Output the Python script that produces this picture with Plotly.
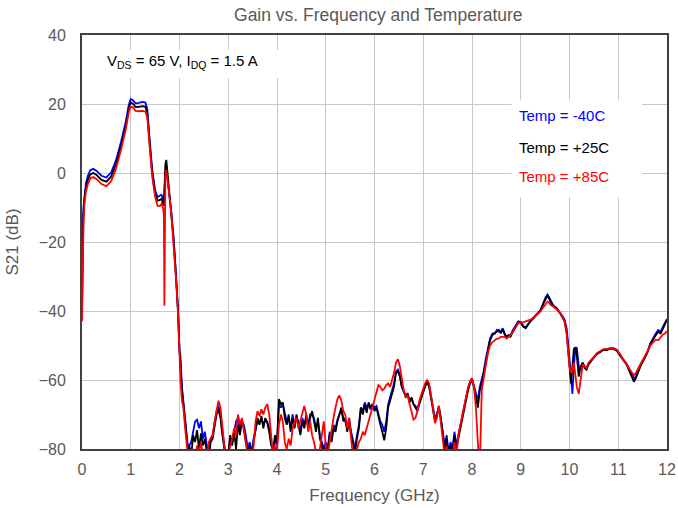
import plotly.graph_objects as go

# ---------------- data ----------------
freq_low = [0, 0.01, 0.03, 0.05, 0.08, 0.12, 0.17, 0.23, 0.3, 0.4, 0.5, 0.6, 0.7, 0.8, 0.9, 0.96,
            1.0, 1.05, 1.1, 1.17, 1.24, 1.3, 1.34, 1.38, 1.44, 1.5, 1.55, 1.6, 1.63, 1.66, 1.68,
            1.69, 1.70, 1.71, 1.73, 1.75, 1.78, 1.83, 1.88, 1.93, 1.97, 2.0, 2.02, 2.05, 2.08,
            2.11, 2.14, 2.17]

blue_low = [-36, -18, -10, -6, -3, -0.8, 0.8, 1.2, 0.6, -0.8, -1.3, 0.2, 3.8, 9, 15, 19.8,
            21.4, 21.0, 20.2, 20.3, 20.6, 20.4, 18.5, 11, 1, -5, -7, -6.5, -6.3, -7.5, -8,
            -6, -2, 0, 1.5, -0.5, -5, -11, -19, -30, -40, -52, -53, -62, -66,
            -71, -76, -79]
black_low = [-40, -21, -12, -7.5, -4.3, -2, -0.4, 0, -0.6, -2, -2.5, -1, 2.6, 7.9, 13.9, 18.7,
             20.4, 20.0, 19.1, 19.2, 19.4, 19.2, 17.3, 10, 0, -6, -8, -7.8, -7.5, -8.8, -9.5,
             -5, 0, 2.5, 3.8, 0.5, -4.5, -11, -19.5, -30.5, -40, -51, -56, -63, -67,
             -72, -76, -80]
red_low = [-43, -25, -14.5, -9, -5.5, -3.2, -1.6, -1.2, -1.8, -3.2, -3.8, -2.3, 1.4, 6.7, 12.8, 17.6,
           19.3, 19.0, 18.0, 17.9, 18.0, 17.8, 16, 9, -1, -7, -9.5, -9.5, -9, -10, -12,
           -38.5, -5, -1, 0.8, -1, -5, -11.5, -20, -31, -41, -54, -60, -66, -68,
           -73, -78, -82]

# measurement sweep in the noisy band, 2.20 .. 8.16 GHz, 40 MHz steps
freq_mid = [round(2.2 + 0.04 * i, 2) for i in range(150)]

blue_mid = [
    -79, -78, -75, -72, -71.5, -74, -72, -77, -75, -79,
    -80, -77, -76, -72, -69, -67.5, -70, -75, -79, -83,
    -81, -77, -78, -75, -72, -71, -75, -72, -73, -76,
    -80, -78, -81, -77, -74, -72, -72.5, -71, -73, -71.5,
    -72, -74, -78, -81, -77, -79, -67, -68, -67, -70,
    -72, -71, -74, -70, -73, -71, -72, -75, -71, -73,
    -71, -73, -70, -70, -71, -74, -72, -76, -78, -80,
    -78, -80, -75, -77, -73, -74, -71.5, -70, -68.5, -71,
    -72, -74, -71, -75, -78, -80, -76, -73, -68, -69,
    -66.5, -68, -67, -68.5, -67, -68, -67.5, -70, -72, -73,
    -75, -72, -67, -65, -63, -61, -57.5, -57, -58.5, -62,
    -63.5, -64.5, -64, -66, -65.5, -67, -67.5, -68.5, -66.5, -64.5,
    -63, -61.5, -60, -61.5, -64.5, -68.5, -71, -70, -67.5, -71,
    -75, -79, -76, -81, -78, -80, -75, -79, -76, -73,
    -70, -68, -65, -62.5, -60.5, -59.5, -61.5, -64, -66, -62,
]
black_mid = [
    -79, -82, -76, -78, -74.5, -80, -75.5, -79, -77, -81,
    -83, -78, -77, -73, -70, -68.5, -71, -76, -80, -84,
    -82, -76, -79, -75, -80, -73, -76, -71.5, -74, -77,
    -81, -79, -83, -78, -74, -71, -73, -70.5, -74, -71,
    -72.5, -75, -79, -80, -76, -78, -65.5, -67, -66.5, -71,
    -73, -70, -75, -71, -74, -70, -73, -76, -72, -74,
    -70, -74, -71, -69, -72, -75, -71, -77, -79, -82,
    -79, -81, -76, -78, -74, -75, -72, -70, -68, -72,
    -71, -75, -72, -76, -79, -81, -77, -74, -68, -70,
    -67, -69.5, -66.5, -68, -67, -69, -68, -71, -73, -75,
    -77.5, -74, -68, -66, -64, -62, -58, -57.5, -59, -62,
    -63, -65, -64, -66.5, -65, -67, -68, -69, -67, -65,
    -63.5, -62, -60.5, -62, -65, -69, -72, -70, -68, -71,
    -76, -80, -77, -82, -79, -81, -76, -80, -77, -74,
    -71, -69, -66, -63, -61, -60, -62, -65, -68, -63,
]
red_mid = [
    -84, -82, -80, -83, -79, -81, -78, -82, -80, -84,
    -78, -77, -76, -72, -69, -66, -68, -74, -79, -83,
    -84, -79, -77, -74, -76, -70, -73, -71, -75, -78,
    -82, -80, -84, -79, -72, -69, -70.5, -68.5, -70, -68,
    -67, -70, -76, -82, -79, -81, -73, -70, -72, -78,
    -80, -77, -79, -74, -72, -71, -74, -72, -70, -67.5,
    -70, -75, -72, -76, -78, -81, -84, -80, -76, -72,
    -79, -82, -78, -74, -71, -68, -65.5, -64.5, -66, -69,
    -70, -74, -71, -77, -82, -84, -80, -78, -77, -75,
    -76, -74, -72, -70, -68, -66, -63.5, -61.5, -62, -63,
    -62.5, -61.5, -61, -62, -60, -58, -55, -54, -56, -60,
    -63, -65, -64.5, -67, -69, -71.5, -71, -69, -66, -64,
    -62.5, -61, -60, -61, -64, -68, -72.5, -71, -67.5, -72,
    -78, -82, -79, -84, -80, -83, -78, -82, -76, -73,
    -71, -68, -65, -62, -60.5, -59.5, -62, -68, -78, -86,
]

freq_high = [8.2, 8.24, 8.28, 8.33, 8.37, 8.42, 8.47, 8.51, 8.55, 8.59, 8.63, 8.67, 8.71, 8.75,
             8.79, 8.84, 8.9, 8.95, 9.0, 9.05, 9.1, 9.15, 9.2, 9.27, 9.33, 9.4, 9.46, 9.51,
             9.55, 9.58, 9.62, 9.67, 9.73, 9.8, 9.86, 9.9, 9.94, 9.97, 10.0, 10.03, 10.06,
             10.09, 10.12, 10.15, 10.19, 10.23, 10.27, 10.31, 10.35, 10.39, 10.44, 10.5,
             10.56, 10.62, 10.69, 10.76, 10.83, 10.9, 10.97, 11.04, 11.1, 11.17, 11.23,
             11.28, 11.32, 11.36, 11.41, 11.47, 11.53, 11.6, 11.66, 11.72, 11.77, 11.82,
             11.87, 11.92, 11.96, 12.0]

blue_high = [-60, -57.5, -54, -50, -48, -46.5, -46.5, -45.5, -46, -46, -45, -46.5, -47.5, -47,
             -47, -45.5, -44.3, -43, -43.2, -44.3, -44.8, -43.8, -42.8, -41.8, -40.8, -39.8, -37.8, -36,
             -35.2, -36, -37.5, -38.4, -39, -40.2, -41.5, -42.5, -45, -49, -54, -60, -64,
             -56, -51, -50.5, -56, -57, -55, -56, -56.5, -55.5, -54.5, -53.3,
             -52.3, -51.8, -51.2, -51.2, -50.8, -50.8, -51.3, -52.8, -54, -55.3, -57,
             -58.5, -59.5, -59, -57.2, -55.3, -53.8, -51.8, -49.3, -47.7, -46.5, -45.5,
             -46, -44.5, -43.3, -42.3]
black_high = [-61, -58, -55, -50.5, -48.5, -47, -46.5, -46, -45.5, -46.5, -45.3, -46.8, -47.5, -47,
              -47.5, -46, -44.5, -43.2, -43.5, -44.5, -45, -44, -43, -42, -41, -40, -38, -36.3,
              -35.5, -36.3, -37.8, -38.6, -39.3, -40.5, -41.8, -43, -46, -50, -56, -61, -55,
              -51, -50.5, -53, -59, -56, -55, -56.5, -57, -55.5, -54.5, -53.5,
              -52.5, -52, -51.3, -51.3, -51, -51, -51.5, -53, -54.3, -55.5, -57.5,
              -59, -60.5, -59.5, -57.5, -55.5, -54, -52, -49.5, -48, -47, -46,
              -46.5, -45, -43.5, -42.5]
red_high = [-63, -59, -56, -52, -50, -49, -48.5, -48, -48, -47.5, -47.5, -47.5, -48, -47.5,
            -47, -46, -44.5, -43.5, -43.3, -43.3, -43, -42.8, -42.5, -41.8, -41, -40.2, -39, -38,
            -37.3, -37.6, -38.3, -38.8, -39.4, -40.5, -41.8, -43.2, -46.5, -51, -56, -58, -57,
            -55, -58, -62, -64, -59, -55.5, -56, -56.5, -55, -54.3, -53.3,
            -52.3, -51.7, -51.1, -51, -50.8, -50.8, -51.2, -52.5, -54, -55.3, -56.8,
            -58, -58.6, -58, -56.5, -55, -53.5, -51.8, -50, -49, -48.3, -48.5,
            -47.5, -46.8, -46.5, -45.8]

series_names = ["Temp = -40C", "Temp = +25C", "Temp = +85C"]
series_colors = ["#0000ff", "#000000", "#ff0000"]
x_ticks = list(range(0, 13))
y_ticks = [-80, -60, -40, -20, 0, 20, 40]

freq = freq_low + freq_mid + freq_high
series = [blue_low + blue_mid + blue_high,
          black_low + black_mid + black_high,
          red_low + red_mid + red_high]

# ---------------- figure ----------------
FONT = "Liberation Sans, Arial"
fig = go.Figure()
for name, color, vals in zip(series_names, series_colors, series):
    fig.add_trace(go.Scatter(x=freq, y=vals, mode="lines", name=name,
                             line=dict(color=color, width=1.8), showlegend=False))

grey = "#595959"
axis_common = dict(showgrid=True, gridcolor="#c8c8c8", gridwidth=1, zeroline=False,
                   showline=True, linecolor="#404040", linewidth=2, mirror=True,
                   automargin=False,
                   ticks="", tickfont=dict(family=FONT, size=16, color=grey))

fig.update_xaxes(range=[0, 12], tickvals=x_ticks, ticklabelstandoff=5,
                 title=dict(text="Frequency (GHz)", font=dict(family=FONT, size=17, color=grey),
                            standoff=12),
                 **axis_common)
fig.update_yaxes(range=[-80, 40], tickvals=y_ticks, ticklabelstandoff=11,
                 title=dict(text="S21 (dB)", font=dict(family=FONT, size=17, color=grey),
                            standoff=16),
                 **axis_common)

# white boxes behind the annotation texts
fig.add_shape(type="rect", xref="x", yref="y", x0=0.22, x1=4.6, y0=27.5, y1=35.7,
              fillcolor="white", line=dict(width=0), layer="above")
fig.add_shape(type="rect", xref="x", yref="y", x0=8.82, x1=11.49, y0=-7.0, y1=21.2,
              fillcolor="white", line=dict(width=0), layer="above")

fig.add_annotation(x=0.47, y=32.3, xref="x", yref="y", xanchor="left", yanchor="middle",
                   text="V<sub>DS</sub> = 65 V, I<sub>DQ</sub> = 1.5 A", showarrow=False,
                   font=dict(family=FONT, size=15, color="#000000"))

legend_y = [16.8, 7.3, -1.1]
for name, color, yy in zip(series_names, series_colors, legend_y):
    fig.add_annotation(x=8.92, y=yy, xref="x", yref="y", xanchor="left", yanchor="middle",
                       text=name, showarrow=False,
                       font=dict(family=FONT, size=15, color=color))

fig.update_layout(
    width=678, height=508,
    margin=dict(l=82, r=11, t=35, b=59, autoexpand=False),
    paper_bgcolor="white", plot_bgcolor="white",
    title=dict(text="Gain vs. Frequency and Temperature", x=0.558, xanchor="center",
               y=1 - 15 / 508, yanchor="middle",
               font=dict(family=FONT, size=17.5, color=grey)),
)

fig.write_html("out.html")
